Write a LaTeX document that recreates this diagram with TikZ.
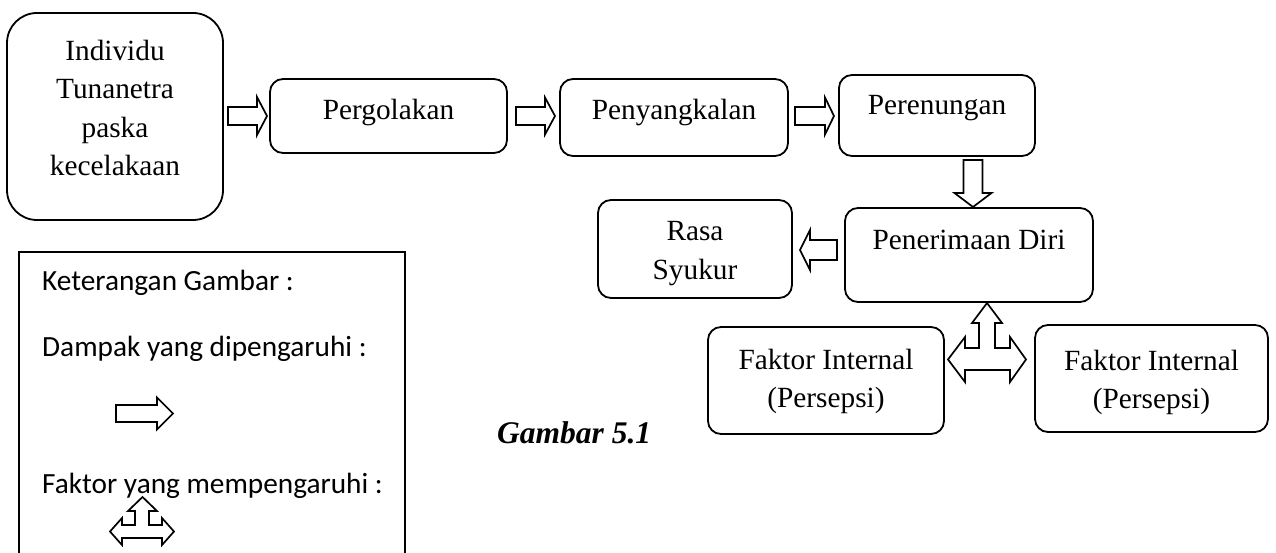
\documentclass[tikz,border=0pt]{standalone}
\usepackage{fontspec}
\setmainfont{Liberation Serif}
\newfontfamily\calibri{Carlito}
\begin{document}
\begin{tikzpicture}[x=1pt,y=-1pt,
  boxline/.style={draw=black,line width=1.8pt,rounded corners=13pt,inner sep=0pt},
  txt/.style={inner sep=0pt,font=\fontsize{29.3}{38.3}\selectfont},
  legtxt/.style={inner sep=0pt,anchor=base west,font=\calibri\fontsize{29.3}{34}\selectfont},
  arr/.style={draw=black,line width=1.7pt,line join=miter,fill=white}]
\useasboundingbox (0,0) rectangle (1276,553);
\newcommand\RArr[6]{\draw[arr] (#1,#4-#5) -- (#2,#4-#5) -- (#2,#4-#6) -- (#3,#4) -- (#2,#4+#6) -- (#2,#4+#5) -- (#1,#4+#5) -- cycle;}
\newcommand\DArr[6]{\draw[arr] (#4-#5,#1) -- (#4-#5,#2) -- (#4-#6,#2) -- (#4,#3) -- (#4+#6,#2) -- (#4+#5,#2) -- (#4+#5,#1) -- cycle;}
% boxes
\node[boxline,rounded corners=30pt,minimum width=216pt,minimum height=207pt] (ind) at (115,116.5) {};
\node[txt,align=center,anchor=north] (indt) at (115,40) {Individu\\Tunanetra\\paska\\kecelakaan};
\node[boxline,minimum width=237pt,minimum height=74pt] (perg) at (388.5,116) {};
\node[txt,anchor=base] (pergt) at (388.5,120) {Pergolakan};
\node[boxline,minimum width=228pt,minimum height=77pt] (peny) at (674,117.5) {};
\node[txt,anchor=base] (penyt) at (674,120) {Penyangkalan};
\node[boxline,minimum width=196pt,minimum height=81pt] (pere) at (937,115.5) {};
\node[txt,anchor=base] (peret) at (937,115) {Perenungan};
\node[boxline,minimum width=194pt,minimum height=98pt] (rasa) at (695,249) {};
\node[txt,align=center,anchor=north] (rasat) at (695,221.5) {Rasa\\Syukur};
\node[boxline,minimum width=248pt,minimum height=94pt] (pene) at (969,255) {};
\node[txt,anchor=base] (penet) at (969,250) {Penerimaan Diri};
\node[boxline,minimum width=236pt,minimum height=107pt] (fk1) at (826,380.5) {};
\node[txt,align=center,anchor=north] (fk1t) at (826,348.5) {Faktor Internal\\(Persepsi)};
\node[boxline,minimum width=233pt,minimum height=107pt] (fk2) at (1151.5,378.5) {};
\node[txt,align=center,anchor=north] (fk2t) at (1151.5,350) {Faktor Internal\\(Persepsi)};
% block arrows
\RArr{228}{257}{267}{116}{9}{19}
\RArr{516}{545}{555}{116}{9}{18.5}
\RArr{795}{825}{834}{116}{9}{18.5}
\DArr{160}{193}{207}{973}{9.5}{18.5}
\RArr{837}{810}{800}{250}{10}{20}
\draw[arr] (987,303) -- (1002,323) -- (995,323) -- (995,348) -- (1010,348) -- (1010,337) -- (1026,359.5) -- (1010,382) -- (1010,370) -- (965,370) -- (965,382) -- (948,359.5) -- (965,337) -- (965,348) -- (979,348) -- (979,323) -- (972,323) -- cycle;
% caption
\node[inner sep=0pt,anchor=base west,font=\fontsize{31.5}{36}\selectfont\bfseries\itshape] (cap) at (497,443) {Gambar 5.1};
% legend
\draw[line width=1.8pt] (19,553) -- (19,252) -- (405,252) -- (405,553);
\node[legtxt] (l1) at (42,290) {Keterangan Gambar :};
\node[legtxt] (l2) at (42,356) {Dampak yang dipengaruhi :};
\node[legtxt] (l3) at (42,493) {Faktor yang mempengaruhi :};
\RArr{116}{157}{173}{413.5}{8.5}{16}
\draw[arr] (142.5,497) -- (157,511) -- (149,511) -- (149,525) -- (162,525) -- (162,518) -- (174,531.5) -- (162,545) -- (162,538) -- (122,538) -- (122,545) -- (110,531.5) -- (122,518) -- (122,525) -- (135,525) -- (135,511) -- (128,511) -- cycle;
\end{tikzpicture}
\end{document}
